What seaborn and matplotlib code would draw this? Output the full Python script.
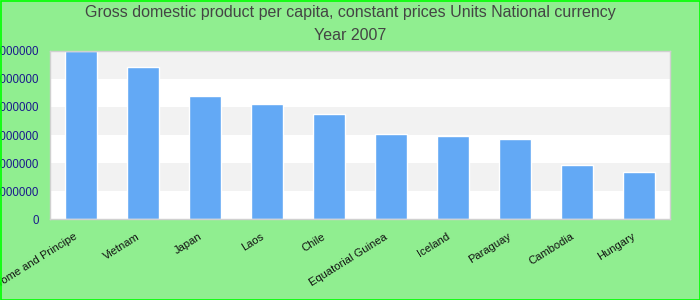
import matplotlib
matplotlib.use("Agg")
import matplotlib.pyplot as plt
import matplotlib.transforms as mtransforms
import seaborn as sns
import pandas as pd
from matplotlib.patches import Rectangle

countries = ["Sao Tome and Principe", "Vietnam", "Japan", "Laos", "Chile",
             "Equatorial Guinea", "Iceland", "Paraguay", "Cambodia", "Hungary"]
values = [6000000, 5430000, 4390000, 4110000, 3750000,
          3040000, 2970000, 2870000, 1930000, 1690000]
yticks = [0, 1000000, 2000000, 3000000, 4000000, 5000000, 6000000]
title_line1 = "Gross domestic product per capita, constant prices Units National currency"
title_line2 = "Year 2007"

df = pd.DataFrame({"country": countries, "value": values})

sns.set_theme(style="white")
plt.rcParams['font.family'] = ['Liberation Sans', 'DejaVu Sans']

fig = plt.figure(figsize=(7, 3), dpi=100, facecolor="#90ee90")
ax = fig.add_axes([50/700, 1 - 219/300, 620/700, 168/300])
ax.set_facecolor("white")

# alternating bands
for i in range(len(yticks) - 1):
    if i % 2 == 1:
        ax.axhspan(yticks[i], yticks[i+1], color="#f2f2f2", zorder=0, lw=0)

sns.barplot(data=df, x="country", y="value", color="#63a9f5", width=0.52,
            saturation=1, ax=ax, zorder=2)

ax.set_ylim(0, 6000000)
ax.set_xlim(-0.5, len(countries) - 0.5)
ax.set_yticks(yticks)
ax.set_yticklabels([str(v) for v in yticks], fontsize=8.3, color="#1a1a8c")
ax.set_xticks(range(len(countries)))
ax.set_xticklabels(countries, rotation=32, ha="right", rotation_mode="anchor",
                   fontsize=8, color="#111111")
ax.tick_params(axis="both", length=0)
ax.tick_params(axis="y", pad=7.9)
ax.tick_params(axis="x", pad=9)
offset = mtransforms.ScaledTranslation(-7/100, 0, fig.dpi_scale_trans)
for lab in ax.get_xticklabels():
    lab.set_transform(lab.get_transform() + offset)
ax.set_xlabel("")
ax.set_ylabel("")
for s in ax.spines.values():
    s.set_color("#d0d0d0")
    s.set_linewidth(1)

fig.text(0.5, 1 - 13/300, title_line1, ha="center", va="center", fontsize=11.5, color="#444444")
fig.text(0.5, 1 - 36/300, title_line2, ha="center", va="center", fontsize=11.5, color="#444444")

fig.patches.append(Rectangle((0.5/700, 0.5/300), 1 - 1/700, 1 - 1/300, transform=fig.transFigure,
                             fill=False, edgecolor="#00ff00", lw=1.2))

fig.savefig("out.png", dpi=100, facecolor=fig.get_facecolor())
